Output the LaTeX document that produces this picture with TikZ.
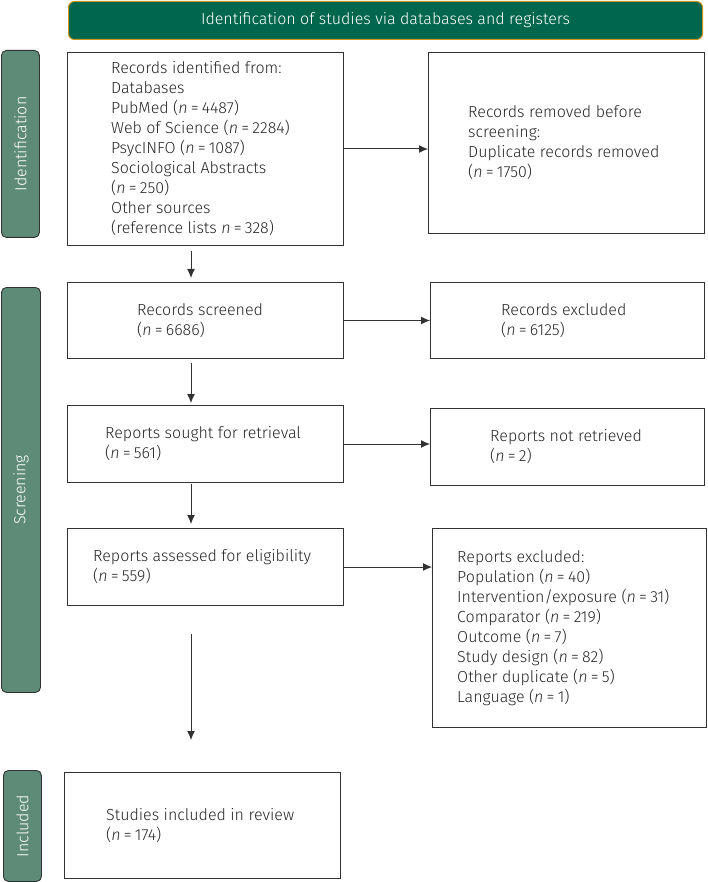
\documentclass[tikz,border=0pt]{standalone}
\usepackage{fontspec}
\setmainfont{Fira Sans}[UprightFont=* Light, ItalicFont=* Light Italic]
\usepackage{xcolor}
\usetikzlibrary{arrows.meta,positioning}
\tikzset{>=latex}
\definecolor{headgreen}{RGB}{0,102,77}
\definecolor{headgold}{RGB}{200,150,30}
\definecolor{sidegreen}{RGB}{94,138,120}
\definecolor{boxline}{RGB}{50,50,50}
\newcommand{\nval}[1]{\textit{n}\kern0.2em=\kern0.2em#1}

\begin{document}
\begin{tikzpicture}[
        x=1pt, y=-1pt,
        font=\fontsize{16}{20}\selectfont,
        stagebox/.style={draw=boxline, line width=1pt, anchor=north west, inner sep=0pt},
        boxtext/.style={anchor=west, align=left, inner sep=0pt, text=black!85},
        sidelabel/.style={draw=boxline, fill=sidegreen, rounded corners=5pt, line width=0.9pt, anchor=north west, inner sep=0pt},
        sidetext/.style={rotate=90, text=white, inner sep=0pt},
        flow/.style={draw=boxline, line width=1pt, -{Latex[length=9pt,width=8pt]}},
    ]
        \useasboundingbox (0,0) rectangle (707,882);

        % header
        \node[
            draw=headgold,
            fill=headgreen,
            rounded corners=6pt,
            line width=1pt,
            minimum width=634pt,
            minimum height=38pt,
            anchor=north west,
            text=white,
        ] (head) at (68,1) {Identification of studies via databases and registers};

        % phase labels
        \node[sidelabel, minimum width=38pt, minimum height=187pt] (idlab) at (1,50) {};
        \node[sidetext] (idtxt) at (idlab.center) {Identification};
        \node[sidelabel, minimum width=39pt, minimum height=405pt] (scrlab) at (1,287) {};
        \node[sidetext] (scrtxt) at (scrlab.center) {Screening};
        \node[sidelabel, minimum width=38pt, minimum height=111pt] (inclab) at (3,770) {};
        \node[sidetext] (inctxt) at (inclab.center) {Included};

        % identification
        \node[stagebox, minimum width=276pt, minimum height=193pt] (ident) at (67,52) {};
        \node[boxtext] (identtxt) at ([xshift=44pt]ident.west) {Records identified from:\\
            Databases\\
            PubMed (\nval{4487})\\
            Web of Science (\nval{2284})\\
            PsycINFO (\nval{1087})\\
            Sociological Abstracts\\
            (\nval{250})\\
            Other sources\\
            (reference lists \nval{328})};
        \node[stagebox, minimum width=276pt, minimum height=181pt] (removed) at (428,52) {};
        \node[boxtext] (removedtxt) at ([xshift=40pt]removed.west) {Records removed before\\
            screening:\\
            Duplicate records removed\\
            (\nval{1750})};

        % screening
        \node[stagebox, minimum width=276pt, minimum height=76pt] (screened) at (67,282) {};
        \node[boxtext] (screenedtxt) at ([xshift=70pt]screened.west) {Records screened\\ (\nval{6686})};
        \node[stagebox, minimum width=274pt, minimum height=76pt] (excluded) at (430,282) {};
        \node[boxtext] (excludedtxt) at ([xshift=71pt]excluded.west) {Records excluded\\ (\nval{6125})};

        \node[stagebox, minimum width=276pt, minimum height=77pt] (sought) at (67,405) {};
        \node[boxtext] (soughttxt) at ([xshift=38pt]sought.west) {Reports sought for retrieval\\ (\nval{561})};
        \node[stagebox, minimum width=274pt, minimum height=77pt] (notretr) at (430,408) {};
        \node[boxtext] (notretrtxt) at ([xshift=60pt]notretr.west) {Reports not retrieved\\ (\nval{2})};

        \node[stagebox, minimum width=276pt, minimum height=77pt] (assessed) at (67,528) {};
        \node[boxtext] (assessedtxt) at ([xshift=26pt]assessed.west) {Reports assessed for eligibility\\ (\nval{559})};
        \node[stagebox, minimum width=274pt, minimum height=199pt] (repexcl) at (432,528) {};
        \node[boxtext] (repexcltxt) at ([xshift=25pt]repexcl.west) {Reports excluded:\\
            Population (\nval{40})\\
            Intervention/exposure (\nval{31})\\
            Comparator (\nval{219})\\
            Outcome (\nval{7})\\
            Study design (\nval{82})\\
            Other duplicate (\nval{5})\\
            Language (\nval{1})};

        % included
        \node[stagebox, minimum width=276pt, minimum height=106pt] (studies) at (64,772) {};
        \node[boxtext] (studiestxt) at ([xshift=42pt]studies.west) {Studies included in review\\ (\nval{174})};

        % arrows
        \coordinate (spine) at (191,0);
        \draw[flow] (ident.east) -- (ident.east -| removed.west);
        \draw[flow] (screened.east) -- (screened.east -| excluded.west);
        \draw[flow] (sought.east) -- (sought.east -| notretr.west);
        \draw[flow] (assessed.east) -- (assessed.east -| repexcl.west);
        \draw[flow, shorten <=5pt, shorten >=4pt] (ident.south -| spine) -- (screened.north -| spine);
        \draw[flow, shorten <=4pt, shorten >=2pt] (screened.south -| spine) -- (sought.north -| spine);
        \draw[flow, shorten <=1pt, shorten >=4pt] (sought.south -| spine) -- (assessed.north -| spine);
        \draw[flow, shorten <=28pt, shorten >=32pt] (assessed.south -| spine) -- (studies.north -| spine);
    \end{tikzpicture}
\end{document}
